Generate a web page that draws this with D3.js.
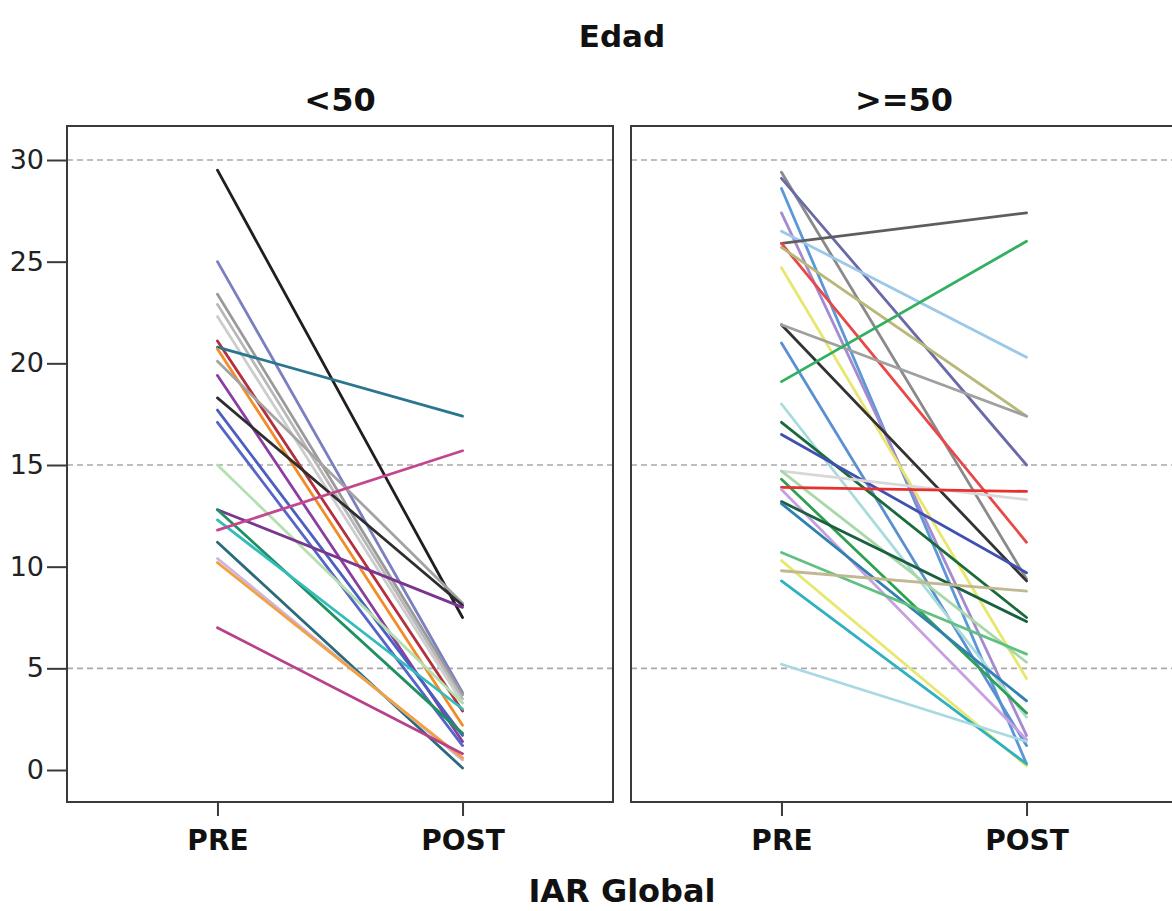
<!DOCTYPE html>
<html>
<head>
<meta charset="utf-8">
<script src="https://cdn.jsdelivr.net/npm/d3@7/dist/d3.min.js"></script>
<style>
  html, body { margin: 0; padding: 0; background: #fff; }
  svg { display: block; }
</style>
</head>
<body>
<svg id="chart" width="1172" height="911"></svg>
<script>
// Facets, time points and axis ticks
const facetTitle = "Edad";
const groups = ["<50", ">=50"];
const times = ["PRE", "POST"];
const yTicks = [0, 5, 10, 15, 20, 25, 30];
const gridValues = [5, 15, 30];
const xTitle = "IAR Global";

// Subjects younger than 50: IAR Global before and after
const youngPre  = [29.5, 25.0, 23.4, 22.9, 22.3, 21.1, 20.8, 20.7, 20.1, 19.4, 18.3, 17.7, 17.1, 15.0, 12.8, 12.8, 12.3, 11.8, 11.2, 10.4, 10.2, 7.0];
const youngPost = [ 7.5,  3.8,  3.7,  3.5,  3.3,  2.9, 17.4,  2.2,  8.2,  1.4,  8.1,  1.7,  1.2,  3.3,  8.0,  1.8,  3.0, 15.7,  0.1,  0.5,  0.6, 0.8];
const youngColors = ["#1f1f1f", "#7b7fc0", "#9a9a9a", "#b8b8b8", "#cdcdcd", "#b3303f", "#2a7590", "#f28c28", "#a3a3a3", "#8a3fa0", "#2e2e2e", "#4a5fc0", "#5565c8", "#b5dfb0", "#7a3590", "#1f9060", "#33bcbc", "#c2478f", "#2a6a7a", "#cdb5e3", "#f3a040", "#b8408a"];

// Subjects aged 50 or older: IAR Global before and after
const olderPre  = [29.4, 29.1, 28.6, 27.4, 26.5, 25.9, 25.9, 25.7, 24.7, 21.9, 21.9, 21.0, 19.1, 18.0, 17.1, 16.5, 14.7, 14.7, 14.3, 13.9, 13.8, 13.2, 13.1, 10.7, 10.3, 9.8, 9.3, 5.2];
const olderPost = [ 9.4, 15.0,  0.3,  1.7, 20.3, 27.4, 11.2, 17.4,  4.5,  9.3, 17.4,  1.2, 26.0,  2.6,  7.5,  9.7, 13.3,  5.3,  2.8, 13.7,  1.5,  7.3,  3.4,  5.7,  0.2, 8.8, 0.3, 1.4];
const olderColors = ["#8a8a8a", "#6a6aa8", "#5a98d8", "#a58ad0", "#9cc8ea", "#5e5e5e", "#e84848", "#b8b878", "#e8e66e", "#333333", "#a0a0a0", "#5a90d0", "#30b060", "#a8dcdc", "#1a6a3a", "#4050b0", "#d8d8d8", "#a8d8a8", "#30a050", "#e83030", "#c8a0e0", "#1a6040", "#3080b0", "#60c080", "#e8e870", "#c0b890", "#30b0c0", "#a8d8e0"];

const panels = [
  { title: groups[0], pre: youngPre, post: youngPost, colors: youngColors },
  { title: groups[1], pre: olderPre, post: olderPost, colors: olderColors }
];

const svg = d3.select("#chart");
const W = 1172, H = 911;
svg.append("rect").attr("width", W).attr("height", H).attr("fill", "#fff");

// Panel geometry
const panelTop = 126, panelBottom = 802;
const panelWidth = 546, panelGap = 18;
const firstLeft = 67;

const y = d3.scaleLinear().domain([0, 30]).range([770, 160]);

const x = d3.scalePoint().domain(times).range([0, panelWidth]).padding(0.614);

const tickFont = "'DejaVu Sans', 'Verdana', sans-serif";
const boldFont = "'DejaVu Sans', 'Verdana', sans-serif";

// Overall facet title
svg.append("text")
  .attr("x", firstLeft + (2 * panelWidth + panelGap) / 2)
  .attr("y", 47)
  .attr("text-anchor", "middle")
  .attr("font-family", boldFont)
  .attr("font-weight", "bold")
  .attr("font-size", 31)
  .attr("fill", "#111")
  .text(facetTitle);

panels.forEach((p, i) => {
  const left = firstLeft + i * (panelWidth + panelGap);
  const g = svg.append("g").attr("transform", `translate(${left},0)`);

  // Clip so lines stay inside the frame
  const clipId = "clip" + i;
  svg.append("clipPath").attr("id", clipId)
    .append("rect").attr("x", 0).attr("y", panelTop).attr("width", panelWidth).attr("height", panelBottom - panelTop);

  // Dashed reference lines
  g.selectAll("line.grid")
    .data(gridValues)
    .join("line")
    .attr("class", "grid")
    .attr("x1", 0).attr("x2", panelWidth)
    .attr("y1", d => y(d)).attr("y2", d => y(d))
    .attr("stroke", "#a9a9a9")
    .attr("stroke-width", 1.6)
    .attr("stroke-dasharray", "6,4");

  // Subject profiles: one line per subject from PRE to POST
  const lines = g.append("g").attr("clip-path", `url(#${clipId})`);
  const idx = d3.range(p.pre.length);
  lines.selectAll("line.subj")
    .data(idx)
    .join("line")
    .attr("class", "subj")
    .attr("x1", x(times[0]))
    .attr("x2", x(times[1]))
    .attr("y1", k => y(p.pre[k]))
    .attr("y2", k => y(p.post[k]))
    .attr("stroke", k => p.colors[k])
    .attr("stroke-width", 2.8)
    .attr("stroke-linecap", "round");

  // Panel frame
  g.append("rect")
    .attr("x", 0).attr("y", panelTop)
    .attr("width", panelWidth).attr("height", panelBottom - panelTop)
    .attr("fill", "none")
    .attr("stroke", "#3a3a3a")
    .attr("stroke-width", 2);

  // Panel title
  g.append("text")
    .attr("x", panelWidth / 2)
    .attr("y", 111)
    .attr("text-anchor", "middle")
    .attr("font-family", boldFont)
    .attr("font-weight", "bold")
    .attr("font-size", 32)
    .attr("fill", "#111")
    .text(p.title);

  // Category axis
  const xAxis = g.append("g")
    .attr("transform", `translate(0,${panelBottom})`)
    .call(d3.axisBottom(x).tickSize(14).tickPadding(14));
  xAxis.select(".domain").remove();
  xAxis.selectAll(".tick line").attr("stroke", "#3a3a3a").attr("stroke-width", 2);
  xAxis.selectAll(".tick text")
    .attr("font-family", boldFont)
    .attr("font-weight", "bold")
    .attr("font-size", 28)
    .attr("fill", "#111");

  // Value axis on the first panel only
  if (i === 0) {
    const yAxis = g.append("g")
      .call(d3.axisLeft(y).tickValues(yTicks).tickSize(20).tickPadding(3));
    yAxis.select(".domain").remove();
    yAxis.selectAll(".tick line").attr("stroke", "#3a3a3a").attr("stroke-width", 2);
    yAxis.selectAll(".tick text")
      .attr("font-family", tickFont)
      .attr("font-size", 27)
      .attr("fill", "#222");
  }
});

// Axis title
svg.append("text")
  .attr("x", firstLeft + (2 * panelWidth + panelGap) / 2)
  .attr("y", 902)
  .attr("text-anchor", "middle")
  .attr("font-family", boldFont)
  .attr("font-weight", "bold")
  .attr("font-size", 32)
  .attr("fill", "#111")
  .text(xTitle);
</script>
</body>
</html>
